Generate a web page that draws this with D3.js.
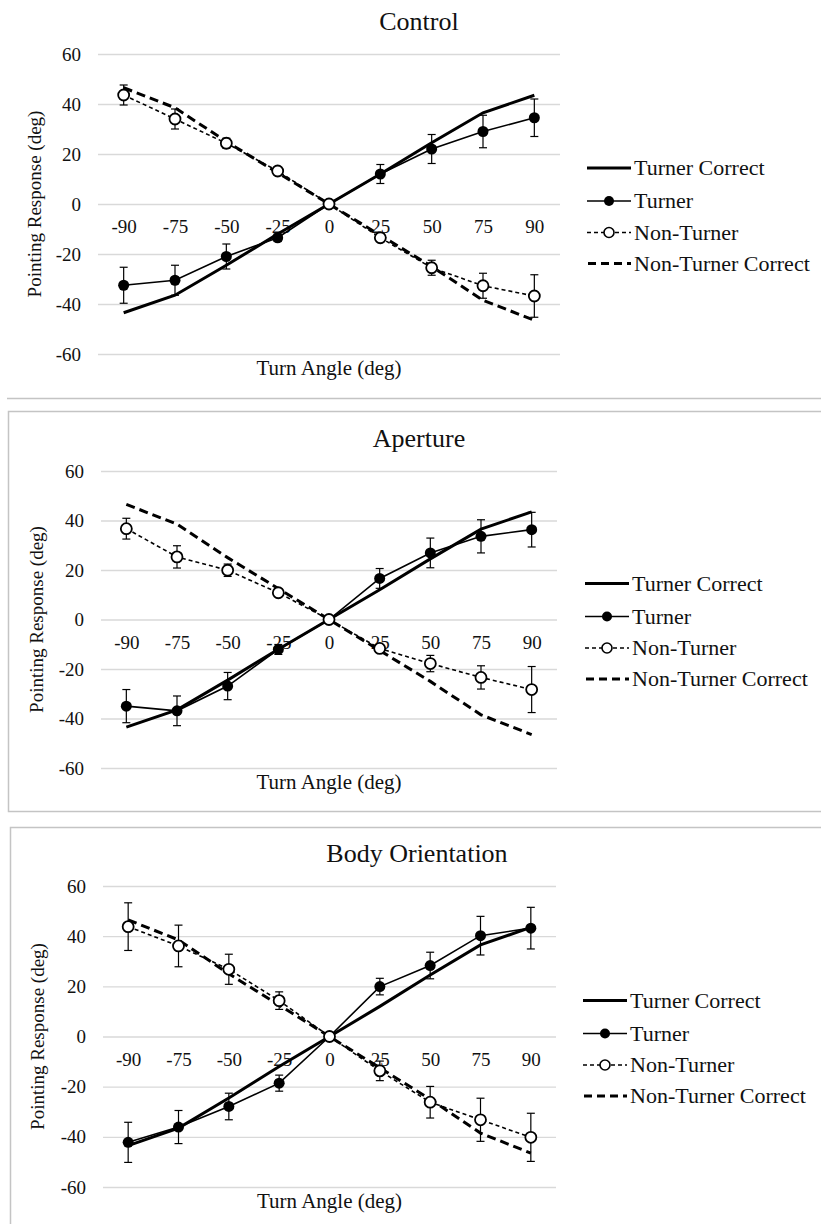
<!doctype html>
<html>
<head>
<meta charset="utf-8">
<script src="https://cdn.jsdelivr.net/npm/d3@7"></script>
<style>
  body { margin: 0; background: #fff; }
  svg text { font-family: "Liberation Serif", "DejaVu Serif", "Times New Roman", serif; fill: #111; }
  .grid line { stroke: #d9d9d9; stroke-width: 1.3px; }
  .grid .domain { display: none; }
  .grid text { font-size: 19px; }
  .xaxis .domain { display: none; }
  .xaxis text { font-size: 19px; }
  .title { font-size: 26px; }
  .xtitle { font-size: 21px; }
  .ytitle { font-size: 19px; }
  .legend text { font-size: 22px; }
  .frame { stroke: #c4c4c4; stroke-width: 1.5px; fill: none; }
</style>
</head>
<body>
<svg id="chart" width="821" height="1224"></svg>
<script>
// turn angles on the x axis
var categories = ["-90", "-75", "-50", "-25", "0", "25", "50", "75", "90"];
var yTicks = [-60, -40, -20, 0, 20, 40, 60];

// reference lines (same in every panel)
var turnerCorrect = [-43.5, -36.5, -24.5, -12, 0, 12, 24.5, 36.5, 43.5];
var nonTurnerCorrect = [46.5, 38.5, 25, 12.5, 0, -12.5, -25, -38.5, -46.5];

var panelTitles = ["Control", "Aperture", "Body Orientation"];

// Control
var controlTurner = [-32.5, -30.5, -21, -13.5, 0, 12, 22, 29, 34.5];
var controlTurnerErr = [7.2, 6, 5, 1.5, 0, 3.8, 5.8, 6.5, 7.5];
var controlNonTurner = [43.6, 34, 24.3, 13.2, 0, -13.5, -25.5, -32.7, -36.8];
var controlNonTurnerErr = [4, 4, 2, 1, 0, 1.5, 3, 5, 8.5];

// Aperture
var apertureTurner = [-35, -36.9, -26.9, -12.1, 0, 16.6, 26.9, 33.6, 36.3];
var apertureTurnerErr = [6.7, 6, 5.5, 2, 0, 4, 6, 6.7, 7];
var apertureNonTurner = [36.7, 25.3, 19.9, 10.8, 0, -11.7, -17.8, -23.4, -28.3];
var apertureNonTurnerErr = [4.2, 4.5, 2.5, 1.5, 0, 1.5, 3.3, 4.7, 9.3];

// Body Orientation
var bodyTurner = [-42.2, -36.1, -27.9, -18.6, 0, 19.9, 28.3, 40.2, 43.2];
var bodyTurnerErr = [8, 6.6, 5.3, 3.2, 0, 3.3, 5.3, 7.7, 8.3];
var bodyNonTurner = [43.8, 36.1, 26.8, 14.3, 0, -13.7, -26.2, -33.2, -40.2];
var bodyNonTurnerErr = [9.5, 8.3, 6, 3.5, 0, 3.9, 6.3, 8.6, 9.6];

var legendLabels = ["Turner Correct", "Turner", "Non-Turner", "Non-Turner Correct"];

var panelData = [
  {turner: controlTurner, turnerErr: controlTurnerErr, non: controlNonTurner, nonErr: controlNonTurnerErr},
  {turner: apertureTurner, turnerErr: apertureTurnerErr, non: apertureNonTurner, nonErr: apertureNonTurnerErr},
  {turner: bodyTurner, turnerErr: bodyTurnerErr, non: bodyNonTurner, nonErr: bodyNonTurnerErr}
];

// where each panel sits on the page
var layouts = [
  {x0: 98, x1: 560, yTop: 54, yBot: 354, titleX: 419, yTitleX: 34, legX: 587},
  {x0: 101, x1: 557, yTop: 471, yBot: 768, titleX: 419, yTitleX: 36, legX: 585},
  {x0: 103, x1: 556, yTop: 886, yBot: 1187, titleX: 417, yTitleX: 37, legX: 583}
];

var svg = d3.select("#chart");
svg.append("rect").attr("width", 821).attr("height", 1224).attr("fill", "#fff");

// panel frames
svg.append("line").attr("class", "frame").attr("x1", 7).attr("x2", 830).attr("y1", 398.5).attr("y2", 398.5);
svg.append("rect").attr("class", "frame").attr("x", 8.5).attr("y", 411.5).attr("width", 830).attr("height", 400);
svg.append("rect").attr("class", "frame").attr("x", 10.5).attr("y", 827.5).attr("width", 830).attr("height", 420);

function drawPanel(i) {
  var L = layouts[i], D = panelData[i];
  var g = svg.append("g");

  var x = d3.scalePoint().domain(categories).range([L.x0, L.x1]).padding(0.5);
  var y = d3.scaleLinear().domain([-60, 60]).range([L.yBot, L.yTop]);

  // gridlines + y labels
  g.append("g").attr("class", "grid")
    .attr("transform", "translate(" + L.x0 + ",0)")
    .call(d3.axisLeft(y).tickValues(yTicks).tickSize(-(L.x1 - L.x0)).tickPadding(17).tickFormat(function(d) { return String(d); }));

  // x labels sit just under the zero line
  g.append("g").attr("class", "xaxis")
    .attr("transform", "translate(0," + y(0) + ")")
    .call(d3.axisBottom(x).tickSize(0).tickPadding(16));

  g.append("text").attr("class", "title")
    .attr("x", L.titleX).attr("y", L.yTop - 33).attr("dy", "0.35em")
    .attr("text-anchor", "middle").text(panelTitles[i]);

  g.append("text").attr("class", "xtitle")
    .attr("x", (L.x0 + L.x1) / 2).attr("y", L.yBot + 14).attr("dy", "0.35em")
    .attr("text-anchor", "middle").text("Turn Angle (deg)");

  g.append("text").attr("class", "ytitle")
    .attr("transform", "translate(" + L.yTitleX + "," + y(0) + ") rotate(-90)")
    .attr("dy", "0.35em").attr("text-anchor", "middle").text("Pointing Response (deg)");

  var line = d3.line().x(function(d, k) { return x(categories[k]); }).y(function(d) { return y(d); });

  g.append("path").datum(turnerCorrect).attr("d", line)
    .attr("fill", "none").attr("stroke", "#000").attr("stroke-width", 3);
  g.append("path").datum(nonTurnerCorrect).attr("d", line)
    .attr("fill", "none").attr("stroke", "#000").attr("stroke-width", 3).attr("stroke-dasharray", "9,5");

  g.append("path").datum(D.turner).attr("d", line)
    .attr("fill", "none").attr("stroke", "#000").attr("stroke-width", 1.6);
  g.append("path").datum(D.non).attr("d", line)
    .attr("fill", "none").attr("stroke", "#000").attr("stroke-width", 1.6).attr("stroke-dasharray", "4,3");

  // error bars
  [[D.turner, D.turnerErr], [D.non, D.nonErr]].forEach(function(s) {
    var eg = g.append("g").attr("stroke", "#000").attr("stroke-width", 1.2);
    s[0].forEach(function(v, k) {
      var e = s[1][k];
      if (!e) return;
      var cx = x(categories[k]);
      eg.append("line").attr("x1", cx).attr("x2", cx).attr("y1", y(v + e)).attr("y2", y(v - e));
      eg.append("line").attr("x1", cx - 4).attr("x2", cx + 4).attr("y1", y(v + e)).attr("y2", y(v + e));
      eg.append("line").attr("x1", cx - 4).attr("x2", cx + 4).attr("y1", y(v - e)).attr("y2", y(v - e));
    });
  });

  g.append("g").selectAll("circle").data(D.turner).join("circle")
    .attr("cx", function(d, k) { return x(categories[k]); })
    .attr("cy", function(d) { return y(d); })
    .attr("r", 5.5).attr("fill", "#000");

  g.append("g").selectAll("circle").data(D.non).join("circle")
    .attr("cx", function(d, k) { return x(categories[k]); })
    .attr("cy", function(d) { return y(d); })
    .attr("r", 5.5).attr("fill", "#fff").attr("stroke", "#000").attr("stroke-width", 1.8);

  // legend
  var rows = [-36, -3, 28.5, 59.5];
  var lg = g.append("g").attr("class", "legend");
  legendLabels.forEach(function(lab, k) {
    var ly = y(0) + rows[k];
    var ln = lg.append("line").attr("x1", L.legX).attr("x2", L.legX + 44)
      .attr("y1", ly).attr("y2", ly).attr("stroke", "#000");
    if (k === 0) ln.attr("stroke-width", 3);
    if (k === 1) ln.attr("stroke-width", 1.6);
    if (k === 2) ln.attr("stroke-width", 1.6).attr("stroke-dasharray", "4,3");
    if (k === 3) ln.attr("stroke-width", 3).attr("stroke-dasharray", "8,5").attr("x1", L.legX + 1);
    if (k === 1) lg.append("circle").attr("cx", L.legX + 22).attr("cy", ly).attr("r", 5).attr("fill", "#000");
    if (k === 2) lg.append("circle").attr("cx", L.legX + 22).attr("cy", ly).attr("r", 5)
      .attr("fill", "#fff").attr("stroke", "#000").attr("stroke-width", 1.6);
    lg.append("text").attr("x", L.legX + 47).attr("y", ly).attr("dy", "0.33em").text(lab);
  });
}

for (var i = 0; i < 3; i++) drawPanel(i);
</script>
</body>
</html>
